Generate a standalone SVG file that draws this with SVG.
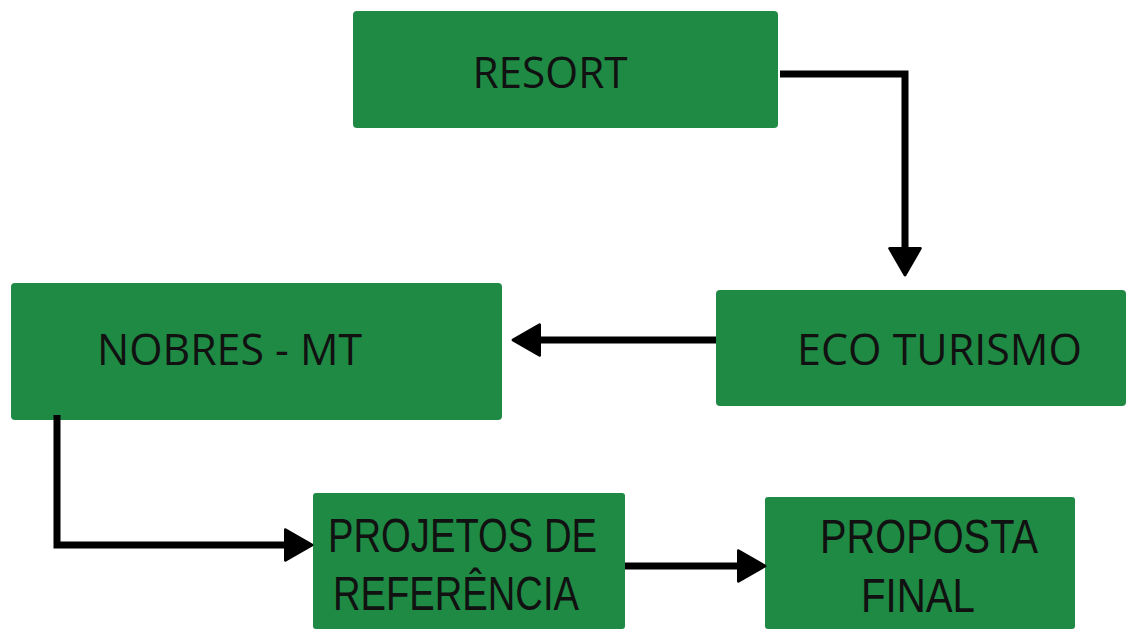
<svg xmlns="http://www.w3.org/2000/svg" width="1126" height="629" viewBox="0 0 1126 629">
<defs>
<style>
.box{fill:#1e8a44}
.t{font-family:"Open Sans","Liberation Sans",sans-serif;fill:#111;font-size:43px}
.tb{font-family:"Liberation Sans",Arial,sans-serif;fill:#111;font-size:49px}
.c{fill:none;stroke:#000;stroke-width:7;stroke-linejoin:miter}
</style>
<marker id="ah" markerWidth="5" markerHeight="5" refX="1" refY="2.5" orient="auto" markerUnits="strokeWidth" viewBox="0 0 5 5">
<path d="M0.2,0.3 L4,2.5 L0.2,4.7 Z" fill="#000" stroke="#000" stroke-width="0.4" stroke-linejoin="round"/>
</marker>
</defs>
<rect width="1126" height="629" fill="#fff"/>
<g id="resort"><rect class="box" x="353" y="11" width="425" height="117" rx="4"/><text class="t" x="550" y="88" text-anchor="middle" textLength="155" lengthAdjust="spacingAndGlyphs">RESORT</text></g>
<g id="ecoturismo"><rect class="box" x="716" y="290" width="410" height="116" rx="4"/><text class="t" x="797" y="365" textLength="285" lengthAdjust="spacingAndGlyphs">ECO TURISMO</text></g>
<g id="nobres"><rect class="box" x="11" y="283" width="491" height="137" rx="4"/><text class="t" x="97" y="365" textLength="265" lengthAdjust="spacingAndGlyphs">NOBRES - MT</text></g>
<g id="projetos"><rect class="box" x="313" y="493" width="312" height="136" rx="3"/><text class="tb" x="328" y="552" textLength="269" lengthAdjust="spacingAndGlyphs">PROJETOS DE</text><text class="tb" x="333" y="610" textLength="246" lengthAdjust="spacingAndGlyphs">REFERÊNCIA</text></g>
<g id="proposta"><rect class="box" x="765" y="497" width="310" height="132" rx="3"/><text class="tb" x="820" y="553" textLength="218" lengthAdjust="spacingAndGlyphs">PROPOSTA</text><text class="tb" x="861" y="612" textLength="114" lengthAdjust="spacingAndGlyphs">FINAL</text></g>
<g id="connectors">
<path class="c" d="M780,74 H905 V254" marker-end="url(#ah)"/>
<path class="c" d="M716,340 H534" marker-end="url(#ah)"/>
<path class="c" d="M57,415 V545 H291" marker-end="url(#ah)"/>
<path class="c" d="M625,566 H744" marker-end="url(#ah)"/>
</g>
</svg>
